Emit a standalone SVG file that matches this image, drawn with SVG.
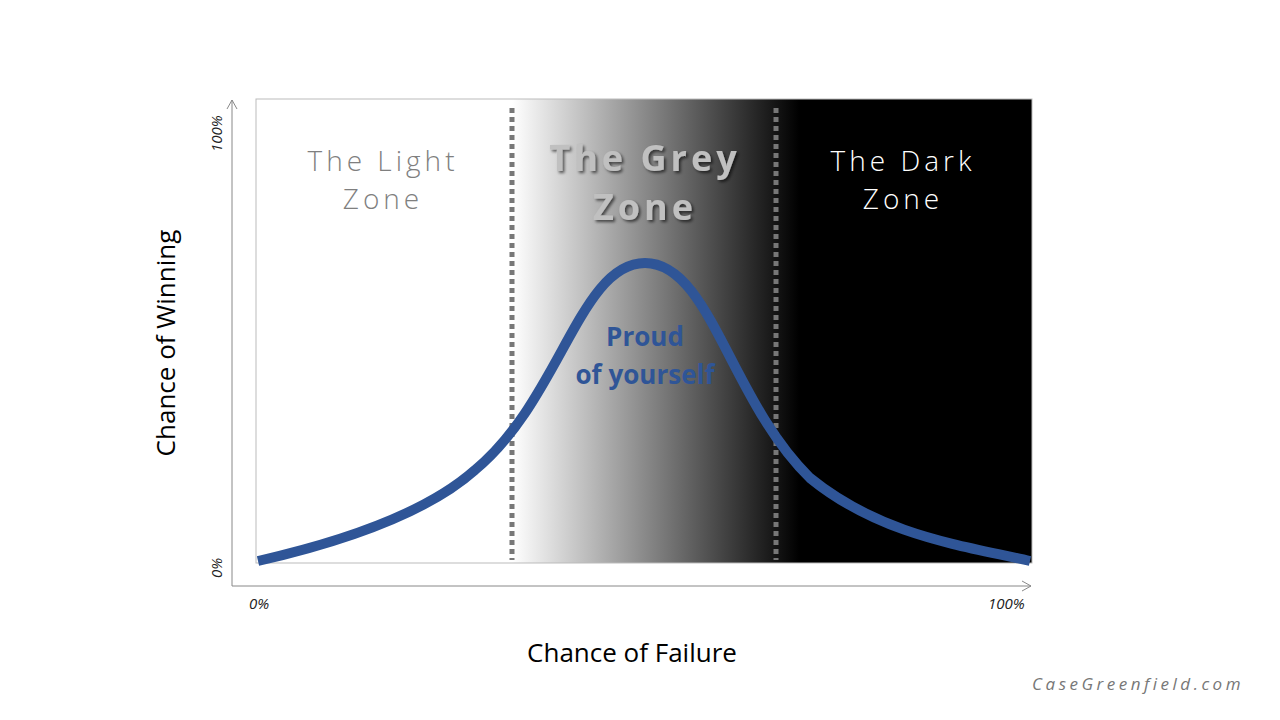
<svg xmlns="http://www.w3.org/2000/svg" width="1280" height="720" viewBox="0 0 1280 720">
<defs>
<linearGradient id="g" x1="256" y1="0" x2="1032" y2="0" gradientUnits="userSpaceOnUse">
<stop offset="0.33" stop-color="#fff"/>
<stop offset="0.5" stop-color="#8a8a8a"/>
<stop offset="0.70" stop-color="#000"/>
<stop offset="1" stop-color="#000"/>
</linearGradient>
<marker id="a" markerWidth="12" markerHeight="12" refX="10" refY="6" orient="auto" markerUnits="userSpaceOnUse">
<path d="M1,1 L10,6 L1,11" fill="none" stroke="#888" stroke-width="1"/>
</marker>
<filter id="sh" x="-10%" y="-10%" width="130%" height="130%"><feDropShadow dx="2" dy="2" stdDeviation="1.5" flood-color="#000" flood-opacity="0.6"/></filter>
<style>
text{font-family:"Open Sans","Liberation Sans",sans-serif}
.zone{font-size:28px;letter-spacing:4px;text-anchor:middle;font-weight:300}
.ax{font-size:15px;font-style:italic;fill:#222}
.div{stroke:#777;stroke-width:5;stroke-dasharray:5 4}
</style>
</defs>
<rect width="1280" height="720" fill="#fff"/>
<g id="plot">
<rect x="256" y="99" width="776" height="464" fill="url(#g)" stroke="#bbb" stroke-width="1"/>
</g>
<g id="connectors">
<line x1="232" y1="586" x2="232" y2="100" stroke="#888" stroke-width="1" marker-end="url(#a)"/>
<line x1="232" y1="586" x2="1031" y2="586" stroke="#888" stroke-width="1" marker-end="url(#a)"/>
<line class="div" x1="512" y1="108" x2="512" y2="560"/>
<line class="div" x1="776" y1="108" x2="776" y2="560"/>
</g>
<g id="curve">
<path d="M258,561 C350,540 430,510 475,470 C560,400 580,263 645,263 C710,263 730,400 810,478 C880,535 960,545 1030,561" fill="none" stroke="#2f5597" stroke-width="10" stroke-linecap="butt"/>
</g>
<g id="light-zone">
<text class="zone" x="383" y="171" fill="#7f7f7f">The Light</text>
<text class="zone" x="383" y="209" fill="#7f7f7f">Zone</text>
</g>
<g id="grey-zone" filter="url(#sh)">
<text class="zone" x="645" y="171" fill="#c0c0c0" font-weight="700" style="font-weight:700;font-size:36px">The Grey</text>
<text class="zone" x="645" y="220" fill="#c0c0c0" style="font-weight:700;font-size:36px">Zone</text>
</g>
<g id="dark-zone">
<text class="zone" x="903" y="171" fill="#fff">The Dark</text>
<text class="zone" x="903" y="209" fill="#fff">Zone</text>
</g>
<g id="proud">
<text x="645" y="346" font-size="26" font-weight="700" fill="#2f5597" text-anchor="middle">Proud</text>
<text x="645" y="384" font-size="26" font-weight="700" fill="#2f5597" text-anchor="middle">of yourself</text>
</g>
<text class="ax" transform="translate(222,152) rotate(-90)">100%</text>
<text class="ax" transform="translate(222,578) rotate(-90)">0%</text>
<text class="ax" x="249" y="609">0%</text>
<text class="ax" x="988" y="609">100%</text>
<text x="632" y="662" font-size="26" text-anchor="middle" fill="#000">Chance of Failure</text>
<text transform="translate(175,343) rotate(-90)" font-size="26" text-anchor="middle" fill="#000">Chance of Winning</text>
<text x="1244" y="690" font-size="17" font-style="italic" letter-spacing="3.5" text-anchor="end" fill="#777">CaseGreenfield.com</text>
</svg>
